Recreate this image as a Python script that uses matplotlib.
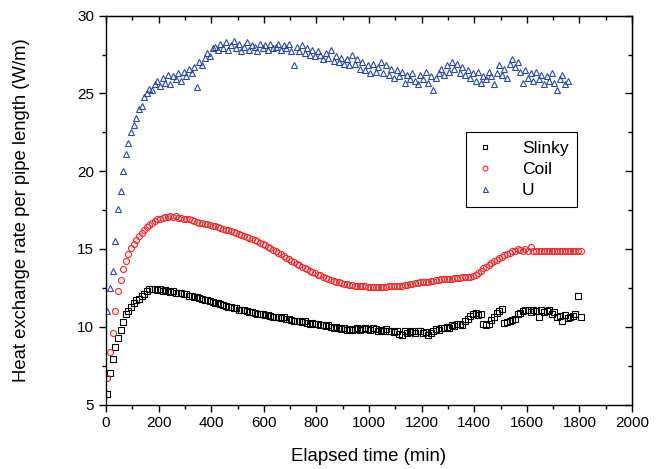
import numpy as np
import matplotlib
matplotlib.use('Agg')
import matplotlib.pyplot as plt
from matplotlib.ticker import MultipleLocator

plt.rcParams['font.family'] = ['Liberation Sans', 'DejaVu Sans']

slinky = [5.7, 7.0, 7.9, 8.7, 9.3, 9.8, 10.3, 10.8, 11.0, 11.3,
          11.5, 11.7, 11.8, 12.0, 12.1, 12.3, 12.4, 12.45, 12.4, 12.35,
          12.4, 12.3, 12.35, 12.3, 12.25, 12.3, 12.2, 12.2, 12.15, 12.1,
          12.1, 12.0, 11.95, 11.9, 11.9, 11.85, 11.8, 11.7, 11.75, 11.65,
          11.6, 11.55, 11.5, 11.45, 11.4, 11.35, 11.3, 11.25, 11.2, 11.2,
          11.1, 11.1, 11.05, 11.0, 10.95, 10.95, 10.9, 10.85, 10.8, 10.8,
          10.75, 10.75, 10.7, 10.65, 10.65, 10.6, 10.55, 10.6, 10.5, 10.5,
          10.45, 10.4, 10.4, 10.35, 10.3, 10.35, 10.25, 10.2, 10.25, 10.15,
          10.15, 10.1, 10.1, 10.05, 10.1, 10.0, 9.95, 10.0, 9.9, 9.85,
          9.9, 9.8, 9.85, 9.8, 9.85, 9.9, 9.8, 9.85, 9.9, 9.85,
          9.8, 9.9, 9.85, 9.75, 9.8, 9.75, 9.85, 9.7, 9.75, 9.65,
          9.7, 9.55, 9.5, 9.7, 9.6, 9.65, 9.7, 9.6, 9.75, 9.7,
          9.6, 9.65, 9.5, 9.6, 9.75, 9.85, 9.8, 9.9, 9.95, 10.0,
          9.9, 10.1, 10.05, 10.15, 10.2, 10.1, 10.35, 10.5, 10.7, 10.85,
          10.9, 10.75, 10.85, 10.2, 10.1, 10.15, 10.45, 10.6, 10.9, 11.0,
          11.15, 10.25, 10.3, 10.35, 10.45, 10.5, 10.85, 10.9, 11.0, 11.1,
          11.05, 10.95, 11.1, 11.0, 10.6, 11.05, 10.95, 11.0, 11.1, 10.85,
          10.95, 10.6, 10.7, 10.4, 10.75, 10.55, 10.6, 10.7, 10.8, 11.95,
          10.6]

coil = [6.7, 8.4, 9.6, 11.0, 12.3, 13.0, 13.7, 14.2, 14.7, 15.05,
        15.3, 15.6, 15.85, 16.05, 16.25, 16.4, 16.55, 16.7, 16.8, 16.9,
        16.95, 17.0, 17.05, 17.05, 17.1, 17.05, 17.1, 17.0, 17.0, 16.95,
        16.9, 16.9, 16.85, 16.8, 16.75, 16.7, 16.7, 16.6, 16.6, 16.55,
        16.5, 16.45, 16.4, 16.35, 16.3, 16.25, 16.2, 16.15, 16.1, 16.0,
        15.95, 15.9, 15.85, 15.8, 15.7, 15.65, 15.55, 15.5, 15.4, 15.35,
        15.25, 15.15, 15.05, 14.95, 14.85, 14.75, 14.65, 14.55, 14.45, 14.35,
        14.25, 14.15, 14.05, 13.95, 13.85, 13.8, 13.7, 13.6, 13.5, 13.45,
        13.35, 13.3, 13.2, 13.15, 13.05, 13.0, 12.95, 12.9, 12.85, 12.8,
        12.75, 12.75, 12.7, 12.7, 12.65, 12.65, 12.6, 12.6, 12.6, 12.55,
        12.55, 12.55, 12.55, 12.55, 12.55, 12.55, 12.55, 12.6, 12.6, 12.6,
        12.6, 12.65, 12.65, 12.7, 12.7, 12.75, 12.75, 12.8, 12.8, 12.85,
        12.85, 12.9, 12.9, 12.95, 12.95, 13.0, 13.0, 13.05, 13.05, 13.1,
        13.1, 13.1, 13.15, 13.15, 13.15, 13.2, 13.2, 13.2, 13.2, 13.25,
        13.3, 13.45, 13.6, 13.75, 13.85, 14.0, 14.1, 14.2, 14.3, 14.4,
        14.5, 14.6, 14.7, 14.75, 14.85, 14.9, 15.0, 14.95, 14.85, 15.0,
        14.9, 15.1, 14.9, 14.9, 14.9, 14.9, 14.9, 14.9, 14.9, 14.9,
        14.9, 14.9, 14.9, 14.9, 14.9, 14.9, 14.9, 14.9, 14.9, 14.85,
        14.85]

u_loop = [11.0, 12.5, 13.6, 15.5, 17.6, 18.7, 20.0, 21.1, 21.8, 22.5,
          23.0, 23.4, 24.0, 24.2, 24.8, 25.0, 25.3, 25.2, 25.6, 25.8,
          25.5, 26.0, 25.7, 26.2, 25.6, 26.1, 25.9, 26.3, 25.8, 26.4,
          26.1, 26.6, 26.3, 26.7, 25.4, 27.0, 26.8, 27.3, 27.6, 27.4,
          27.9, 28.0, 27.8, 28.2, 27.9, 28.3, 27.8, 28.1, 28.4, 27.9,
          28.2, 27.7, 28.0, 28.3, 27.8, 28.1, 28.0, 27.7, 28.2, 27.9,
          28.1, 27.8, 28.2, 27.9, 28.0, 28.2, 27.8, 28.1, 27.9, 28.2,
          27.7, 26.8, 28.0, 27.7, 28.1, 27.6, 27.9, 27.5, 27.8, 27.4,
          27.7, 27.5, 27.2, 27.6, 27.3, 27.8, 27.1, 27.4, 27.0, 27.3,
          26.9, 27.2, 26.8, 27.5, 26.9, 27.2, 26.6, 27.0, 26.5, 26.8,
          26.3, 26.9, 26.4, 26.7, 27.0, 26.3, 26.8, 26.2, 26.6, 26.0,
          26.5, 26.1, 26.4, 25.7, 26.2, 25.9, 26.3, 25.8, 25.6, 26.2,
          25.9, 26.4, 25.7, 26.1, 25.2, 26.0, 26.3, 26.6, 26.2, 26.8,
          26.4, 27.0, 26.6, 26.9, 26.3, 26.7, 26.2, 26.5, 26.0, 26.3,
          25.8, 26.4, 25.7, 26.1, 25.9, 26.4, 26.1, 25.6, 26.3, 26.8,
          26.2, 26.6, 26.0, 26.9, 27.2, 26.7, 27.0, 26.4, 25.7, 26.5,
          26.0, 26.3, 25.8, 26.4, 25.9, 26.2, 25.6, 26.1, 25.8, 26.3,
          25.7, 25.2, 25.9, 26.2, 25.6, 25.8]

t_first = 5    # min, first reading
t_step = 10    # min, logging interval

t_slinky = t_first + t_step * np.arange(len(slinky))
t_coil = t_first + t_step * np.arange(len(coil))
t_u = t_first + t_step * np.arange(len(u_loop))

# %% visualize
fig = plt.figure(figsize=(6.67, 4.69), dpi=100)
ax = fig.add_axes([0.159, 0.1375, 0.7885, 0.829])

ax.plot(t_slinky, slinky, ls='none', marker='s', ms=3.7,
        mfc='none', mec='black', mew=0.8, label='Slinky')
ax.plot(t_coil, coil, ls='none', marker='o', ms=4.3,
        mfc='none', mec='#f0282a', mew=0.8, label='Coil')
ax.plot(t_u, u_loop, ls='none', marker='^', ms=4.5,
        mfc='none', mec='#2b4aa8', mew=0.8, label='U')

# cosmetics
ax.set_xlim(0, 2000)
ax.set_ylim(5, 30)
ax.xaxis.set_major_locator(MultipleLocator(200))
ax.xaxis.set_minor_locator(MultipleLocator(100))
ax.yaxis.set_major_locator(MultipleLocator(5))
ax.yaxis.set_minor_locator(MultipleLocator(2.5))
ax.tick_params(which='both', direction='out', width=1.0, labelsize=11)
ax.tick_params(which='major', length=5)
ax.tick_params(which='minor', length=3)
for sp in ax.spines.values():
    sp.set_linewidth(1.0)

# inward ticks on top and right
top = ax.secondary_xaxis('top')
top.xaxis.set_major_locator(MultipleLocator(200))
top.xaxis.set_minor_locator(MultipleLocator(100))
top.tick_params(which='both', direction='in', width=1.0, labeltop=False)
top.tick_params(which='major', length=5)
top.tick_params(which='minor', length=3)
right = ax.secondary_yaxis('right')
right.yaxis.set_major_locator(MultipleLocator(5))
right.yaxis.set_minor_locator(MultipleLocator(2.5))
right.tick_params(which='both', direction='in', width=1.0, labelright=False)
right.tick_params(which='major', length=5)
right.tick_params(which='minor', length=3)

ax.set_xlabel('Elapsed time (min)', fontsize=13.4, labelpad=13)
ax.set_ylabel('Heat exchange rate per pipe length (W/m)', fontsize=13.3,
              labelpad=34)

lgd = ax.legend(loc='upper left', bbox_to_anchor=(0.699, 0.719),
                bbox_transform=fig.transFigure, fontsize=12.5,
                fancybox=False, framealpha=1, edgecolor='black',
                handlelength=1.2, handletextpad=1.5, borderpad=0.5,
                labelspacing=0.35, borderaxespad=0, markerscale=0.8)
lgd.get_frame().set_linewidth(0.8)

fig.savefig('out.png', dpi=100)
